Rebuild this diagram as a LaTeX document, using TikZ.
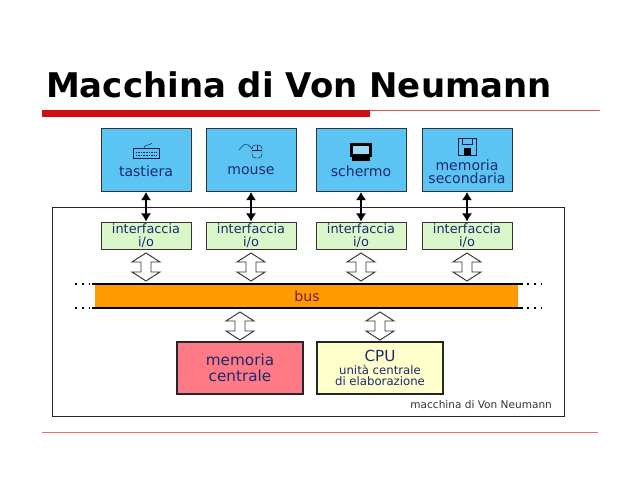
\documentclass[tikz,border=0pt]{standalone}
\usepackage{fontspec}
\setmainfont{DejaVu Sans}
\usetikzlibrary{arrows.meta}
\definecolor{devblue}{HTML}{5BC4F2}
\definecolor{iogreen}{HTML}{D9F7C8}
\definecolor{busorange}{HTML}{FF9A00}
\definecolor{memred}{HTML}{FF7A85}
\definecolor{cpuyellow}{HTML}{FFFFCC}
\definecolor{txtblue}{HTML}{1A2A70}
\definecolor{slidered}{HTML}{CC1010}
\tikzset{
  dev/.style={draw=black!80,thick,fill=devblue,minimum width=2.7cm,minimum height=1.89cm},
  devtext/.style={text=txtblue,align=center,font=\fontsize{12}{11}\selectfont},
  io/.style={draw=black!80,thick,fill=iogreen,text=txtblue,minimum width=2.7cm,
    minimum height=0.81cm,inner sep=0pt,align=center,font=\fontsize{11}{11}\selectfont},
  link/.style={line width=2.2pt,{Latex[length=7pt,width=9pt]}-{Latex[length=7pt,width=9pt]}},
  unit/.style={draw=black!85,line width=1.5pt,minimum width=3.8cm,minimum height=1.56cm,
    align=center,text=txtblue},
  pics/busarrow/.style={code={
    \draw[black!80,thick,fill=white] (0,-14) -- (14,-5) -- (5,-5) -- (5,5) -- (14,5) -- (0,14)
      -- (-14,5) -- (-5,5) -- (-5,-5) -- (-14,-5) -- cycle;}}
}
\begin{document}
\begin{tikzpicture}[x=0.03cm,y=-0.03cm]
  \useasboundingbox (0,0) rectangle (640,480);
  % title
  \node[anchor=west,font=\fontsize{29}{29}\selectfont\bfseries] (title) at (42,85) {Macchina di Von Neumann};
  \fill[slidered] (42,110) rectangle (370,117);
  \draw[slidered!70] (370,110.5) -- (600,110.5);
  \draw[slidered!60] (42,432) -- (598,432);

  % outer frame
  \node[draw=black!85,thick,minimum width=15.36cm,minimum height=6.27cm] (frame) at (308,312) {};
  \node[anchor=south east,text=black!80,font=\fontsize{9}{9}\selectfont] (caption) at (556,413) {macchina di Von Neumann};

  % devices and interfaces
  \foreach \x/\name in {146/kbd,251/mouse,361/screen,467/disk}{
    \node[dev] (\name) at (\x,160) {};
    \node[io] (io\name) at (\x,235.5) {interfaccia\\i/o};
    \draw[link] (\name.south) -- (io\name.north);
    \pic at (\x,267) {busarrow};
  }
  \node[devtext] (kbdtxt) at (146,171) {tastiera};
  \node[devtext] (mousetxt) at (251,171) {mouse};
  \node[devtext] (screentxt) at (361,171) {schermo};
  \node[devtext] (disktxt) at (467,172) {memoria\\secondaria};

  % icons
  \draw[txtblue!70!black] (133,148) rectangle (159,158);
  \draw[txtblue!70!black,densely dotted] (136,152) -- (156,152) (136,155) -- (156,155);
  \draw[txtblue!70!black] (144,148) .. controls (144,144) and (150,146) .. (152,143);
  \draw[txtblue!70!black,rounded corners=3pt] (252,145) rectangle (262,158);
  \draw[txtblue!70!black] (252,150) -- (262,150) (257,145) -- (257,150);
  \draw[txtblue!70!black] (252,149) .. controls (246,140) and (242,146) .. (239,150);
  \fill[black] (350,143) rectangle (372,157);
  \fill[devblue!60!white] (353,146) rectangle (369,154);
  \fill[black] (352,157) rectangle (370,161);
  \draw[txtblue!70!black] (458,138) rectangle (476,155);
  \draw[txtblue!70!black] (462,138) rectangle (472,144);
  \fill[black] (464,148) rectangle (471,155);

  % bus
  \fill[busorange] (95,285) rectangle (518,307);
  \draw[line width=1.8pt] (92,284) -- (523,284) (92,308) -- (523,308);
  \draw[line width=1.8pt,dash pattern=on 2pt off 4pt] (75,284) -- (90,284) (75,308) -- (90,308)
    (527,284) -- (542,284) (527,308) -- (542,308);
  \node[text=txtblue!60!red,font=\fontsize{12}{12}\selectfont] (bus) at (307,296) {bus};

  % memory and cpu
  \pic at (240,326) {busarrow};
  \pic at (380,326) {busarrow};
  \node[unit,fill=memred,font=\fontsize{13}{14}\selectfont] (mem) at (240,368) {memoria\\centrale};
  \node[unit,fill=cpuyellow] (cpu) at (380,368)
    {{\fontsize{13}{13}\selectfont CPU}\\[-1pt]{\fontsize{10}{11}\selectfont unità centrale}\\[-2pt]{\fontsize{10}{11}\selectfont di elaborazione}};
\end{tikzpicture}
\end{document}
